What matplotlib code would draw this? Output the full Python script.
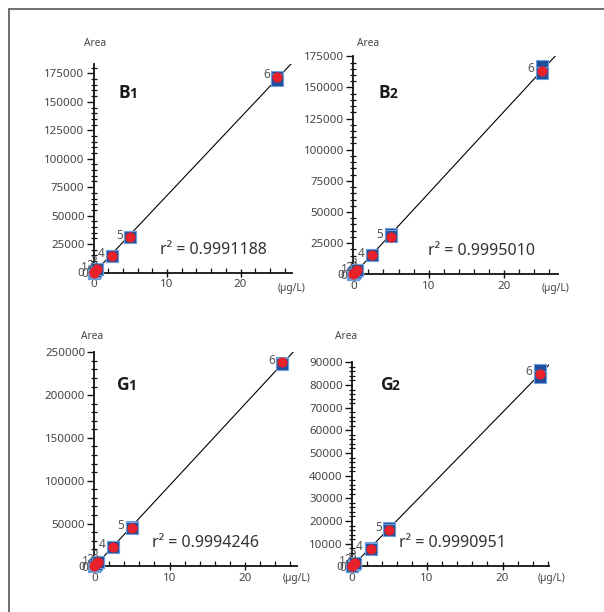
import numpy as np
import matplotlib
matplotlib.use("Agg")
import matplotlib.pyplot as plt
from matplotlib.patches import Rectangle

plt.rcParams['font.family'] = ['Noto Sans', 'DejaVu Sans']

W, H = 604, 612
conc = [0, 0.1, 0.25, 0.5, 2.5, 5, 25]
point_labels = ["0", "1", "2", "3", "4", "5", "6"]

names = ["B", "B", "G", "G"]
subs = ["1", "2", "1", "2"]
r2_texts = ["0.9991188", "0.9995010", "0.9994246", "0.9990951"]

b1_red = [0, 700, 1700, 3400, 14700, 31100, 172000]
b1_blue_a = [0, 700, 1700, 3400, 14900, 31500, 171800]
b1_blue_b = [0, 700, 1700, 3400, 14600, 31000, 169400]

b2_red = [0, 650, 1600, 3200, 15300, 30300, 163300]
b2_blue_a = [0, 650, 1600, 3200, 15500, 32000, 167000]
b2_blue_b = [0, 650, 1600, 3200, 15200, 30800, 161400]

g1_red = [0, 950, 2400, 4700, 22600, 45300, 238300]
g1_blue_a = [0, 950, 2400, 4700, 22500, 45500, 237000]
g1_blue_b = [0, 950, 2400, 4700, 22400, 45000, 236000]

g2_red = [0, 330, 820, 1650, 7800, 16200, 84900]
g2_blue_a = [0, 330, 820, 1650, 8200, 16800, 86800]
g2_blue_b = [0, 330, 820, 1650, 7600, 16000, 83500]

reds = [b1_red, b2_red, g1_red, g2_red]
blues_a = [b1_blue_a, b2_blue_a, g1_blue_a, g2_blue_a]
blues_b = [b1_blue_b, b2_blue_b, g1_blue_b, g2_blue_b]

# layout (pixels): left, right, top, bottom of axes
boxes = [(93.5, 292, 64.3, 272.5), (353.3, 557.7, 56.3, 274.3),
         (94.3, 296.7, 352.3, 566.3), (351.7, 549.3, 362.3, 566.3)]
xmaxs = [27.0, 27.1, 26.9, 26.2]
ylims = [183000, 175000, 250000, 90000]
ymajor = [25000, 25000, 50000, 10000]
yminor = [5000, 5000, 10000, 2000]
name_pos = [(118, 93), (379, 93), (117, 385), (381, 385)]
r2_pos = [(160, 250), (428, 251), (152, 543), (399, 543)]
area_pos = [(95, 44), (368, 44), (92, 336), (346, 336)]
unit_pos = [(292, 288), (556, 288), (297, 578), (552, 578)]
lab_off = [(-9, -1), (-10, 4), (-6, 5), (-3, 7), (-11, 2), (-11, 2), (-11, 2)]

fig = plt.figure(figsize=(W / 100, H / 100), dpi=100)

def fx(x):
    return x / W

def fy(y):
    return 1 - y / H

fig.patches.append(Rectangle((fx(9), -0.2), 1.2, fy(9) + 0.2, transform=fig.transFigure,
                             fill=False, edgecolor='#555555', linewidth=1.2, zorder=0))

tc = '#444444'
for i in range(4):
    l, r, t, b = boxes[i]
    ax = fig.add_axes([fx(l), fy(b), fx(r) - fx(l), fy(t) - fy(b)])
    ax.set_xlim(0, xmaxs[i])
    ax.set_ylim(0, ylims[i])
    for s in ['top', 'right']:
        ax.spines[s].set_visible(False)
    for s in ['left', 'bottom']:
        ax.spines[s].set_linewidth(1.3)
        ax.spines[s].set_color('#111111')
    ax.patch.set_alpha(0)

    x = np.array(conc, dtype=float)
    yall = np.concatenate([reds[i], blues_a[i], blues_b[i]])
    xall = np.concatenate([x, x, x])
    k, c = np.polyfit(xall, yall, 1)
    xx = np.array([0, xmaxs[i]])
    ax.plot(xx, k * xx + c, color='black', lw=0.8, zorder=2, clip_on=True)

    ax.plot(x, blues_a[i], ls='none', marker='s', ms=8, mfc='#1f4e9c', mec='#6d9fdc',
            mew=0.8, zorder=3, clip_on=False)
    ax.plot(x, blues_b[i], ls='none', marker='s', ms=8, mfc='#1f4e9c', mec='#6d9fdc',
            mew=0.8, zorder=3, clip_on=False)
    ax.plot(x, reds[i], ls='none', marker='o', ms=6.8, mfc='#e8212b', mec='#e8212b',
            mew=0.5, zorder=5, clip_on=False)
    for j, lab in enumerate(point_labels):
        ax.annotate(lab, (x[j], reds[i][j]), xytext=(lab_off[j][0] * 0.72, lab_off[j][1] * 0.72),
                    textcoords='offset points', ha='center', va='center', fontsize=8.5,
                    color='#555555', zorder=4, annotation_clip=False)

    ax.set_xticks([0, 10, 20])
    ax.set_xticks(np.arange(0, xmaxs[i], 2), minor=True)
    ax.set_yticks(np.arange(0, ylims[i] + 1, ymajor[i]))
    ax.set_yticks(np.arange(0, ylims[i] + 1, yminor[i]), minor=True)
    ax.tick_params(axis='both', which='major', labelsize=8.3, labelcolor=tc, color='#111111',
                   width=1.0, length=5, direction='out', pad=1.5)
    ax.tick_params(axis='y', which='minor', length=4, width=0.9, direction='inout', color='#111111')
    ax.tick_params(axis='x', which='minor', length=3.5, width=0.9, direction='in', color='#111111')
    ax.tick_params(axis='x', which='major', length=6, direction='inout')

    nx, ny = name_pos[i]
    fig.text(fx(nx), fy(ny), names[i], fontsize=12.5, fontweight='bold', color='#1a1a1a',
             ha='left', va='center', family=['Open Sans', 'DejaVu Sans'])
    fig.text(fx(nx + 11), fy(ny + 1), subs[i], fontsize=10, fontweight='bold', color='#1a1a1a',
             ha='left', va='center', family=['Open Sans', 'DejaVu Sans'])
    rx, ry = r2_pos[i]
    fig.text(fx(rx), fy(ry), "r\u00b2 = " + r2_texts[i], fontsize=11.5, color='#333333',
             ha='left', va='center')
    axx, axy = area_pos[i]
    fig.text(fx(axx), fy(axy), "Area", fontsize=7.3, color='#444444', ha='center', va='center')
    ux, uy = unit_pos[i]
    fig.text(fx(ux), fy(uy), "(\u00b5g/L)", fontsize=7.3, color='#444444', ha='center', va='center')

fig.savefig("out.png", dpi=100)
